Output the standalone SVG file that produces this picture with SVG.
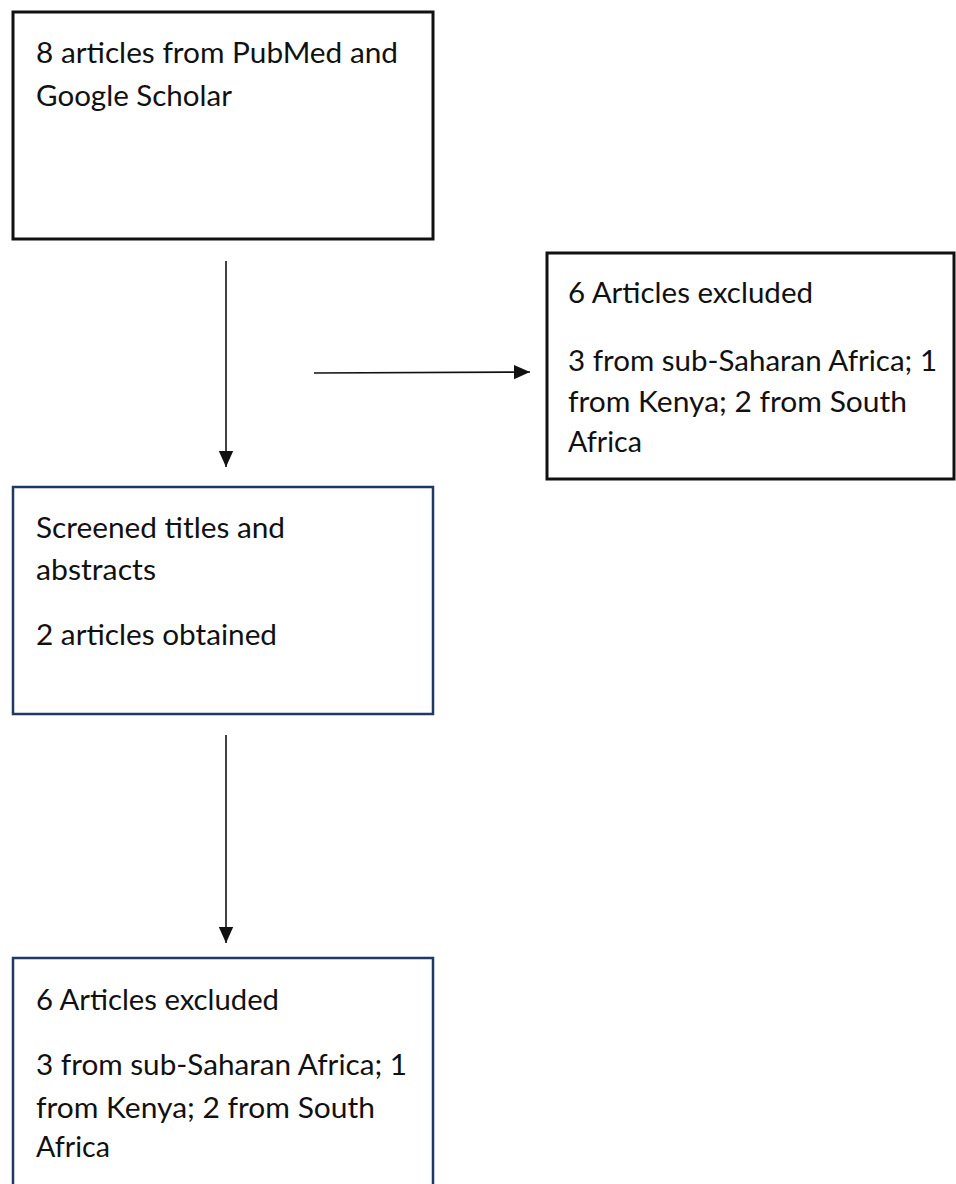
<svg xmlns="http://www.w3.org/2000/svg" width="956" height="1184" viewBox="0 0 956 1184">
<style>
.t{font-family:Lato,"Open Sans","Liberation Sans",sans-serif;font-size:29px;fill:#111}
.bk{fill:#fff;stroke:#111;stroke-width:3}
.bl{fill:#fff;stroke:#1f3864;stroke-width:2.5}
.c{stroke:#111;stroke-width:1.6;fill:none}
</style>
<defs>
<marker id="ah" viewBox="0 0 10 10" refX="10" refY="5" markerWidth="16" markerHeight="16" markerUnits="userSpaceOnUse" orient="auto">
<path d="M0,0.5 L10,5 L0,9.5 Z" fill="#111"/>
</marker>
</defs>
<rect width="956" height="1184" fill="#fff"/>
<g id="connectors">
<line class="c" x1="226" y1="261" x2="226" y2="467" marker-end="url(#ah)"/>
<line class="c" x1="314" y1="373" x2="530" y2="372" marker-end="url(#ah)"/>
<line class="c" x1="226" y1="735" x2="226" y2="943" marker-end="url(#ah)"/>
</g>
<g id="node-sources">
<rect class="bk" x="13" y="12" width="420" height="227"/>
<text class="t" x="36" y="63" textLength="362" lengthAdjust="spacingAndGlyphs">8 articles from PubMed and</text>
<text class="t" x="36" y="106" textLength="196" lengthAdjust="spacingAndGlyphs">Google Scholar</text>
</g>
<g id="node-excluded-1">
<rect class="bk" x="547" y="253" width="407" height="226"/>
<text class="t" x="568" y="303" textLength="245" lengthAdjust="spacingAndGlyphs">6 Articles excluded</text>
<text class="t" x="568" y="371" textLength="369" lengthAdjust="spacingAndGlyphs">3 from sub-Saharan Africa; 1</text>
<text class="t" x="568" y="412" textLength="339" lengthAdjust="spacingAndGlyphs">from Kenya; 2 from South</text>
<text class="t" x="568" y="452" textLength="74" lengthAdjust="spacingAndGlyphs">Africa</text>
</g>
<g id="node-screened">
<rect class="bl" x="13" y="487" width="420" height="227"/>
<text class="t" x="36" y="538" textLength="249" lengthAdjust="spacingAndGlyphs">Screened titles and</text>
<text class="t" x="36" y="580" textLength="120" lengthAdjust="spacingAndGlyphs">abstracts</text>
<text class="t" x="36" y="645" textLength="241" lengthAdjust="spacingAndGlyphs">2 articles obtained</text>
</g>
<g id="node-excluded-2">
<rect class="bl" x="13" y="958" width="420" height="240"/>
<text class="t" x="36" y="1010" textLength="243" lengthAdjust="spacingAndGlyphs">6 Articles excluded</text>
<text class="t" x="36" y="1075" textLength="371" lengthAdjust="spacingAndGlyphs">3 from sub-Saharan Africa; 1</text>
<text class="t" x="36" y="1118" textLength="339" lengthAdjust="spacingAndGlyphs">from Kenya; 2 from South</text>
<text class="t" x="36" y="1157" textLength="74" lengthAdjust="spacingAndGlyphs">Africa</text>
</g>
</svg>
